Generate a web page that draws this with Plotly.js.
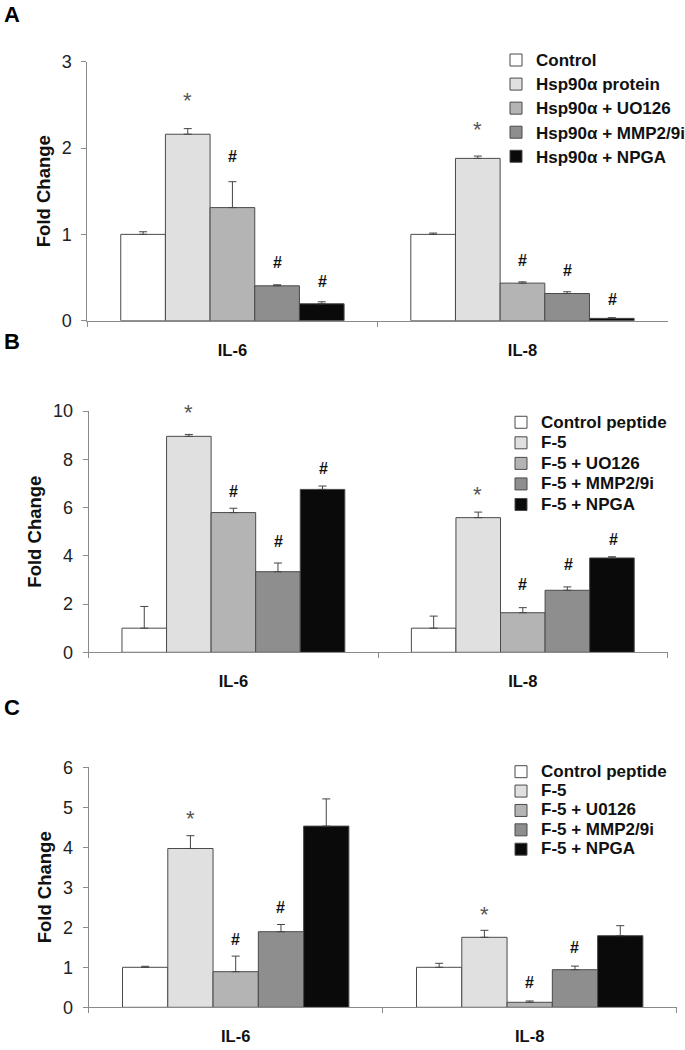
<!DOCTYPE html>
<html>
<head>
<meta charset="utf-8">
<script src="https://cdn.plot.ly/plotly-3.0.1.min.js"></script>
<style>html,body{margin:0;padding:0;background:#fff;}#chart{width:685px;height:1050px;}</style>
</head>
<body>
<div id="chart"></div>
<script>
// ---- Data ----
const categories = ["IL-6", "IL-8"];

// Panel A
const seriesA = ["Control", "Hsp90α protein", "Hsp90α + UO126", "Hsp90α + MMP2/9i", "Hsp90α + NPGA"];
const valuesA = [[1.00, 1.00], [2.16, 1.88], [1.31, 0.435], [0.404, 0.315], [0.196, 0.027]];
const errorsA = [[0.03, 0.015], [0.065, 0.027], [0.30, 0.015], [0.012, 0.02], [0.023, 0.008]];
const marksA = [["", ""], ["*", "*"], ["#", "#"], ["#", "#"], ["#", "#"]];
const markYA = [[0, 0], [2.55, 2.21], [1.90, 0.70], [0.67, 0.585], [0.45, 0.24]];

// Panel B
const seriesB = ["Control peptide", "F-5", "F-5 + UO126", "F-5 + MMP2/9i", "F-5 + NPGA"];
const valuesB = [[1.00, 1.00], [8.95, 5.58], [5.79, 1.64], [3.34, 2.57], [6.75, 3.91]];
const errorsB = [[0.90, 0.50], [0.08, 0.23], [0.18, 0.21], [0.36, 0.14], [0.14, 0.05]];
const marksB = [["", ""], ["*", "*"], ["#", "#"], ["#", "#"], ["#", "#"]];
const markYB = [[0, 0], [9.94, 6.56], [6.66, 2.83], [4.59, 3.62], [7.62, 4.68]];

// Panel C
const seriesC = ["Control peptide", "F-5", "F-5 + U0126", "F-5 + MMP2/9i", "F-5 + NPGA"];
const valuesC = [[1.00, 1.00], [3.97, 1.75], [0.89, 0.125], [1.89, 0.94], [4.53, 1.79]];
const errorsC = [[0.025, 0.10], [0.32, 0.175], [0.39, 0.033], [0.18, 0.09], [0.68, 0.25]];
const marksC = [["", ""], ["*", "*"], ["#", "#"], ["#", "#"], ["", ""]];
const markYC = [[0, 0], [4.72, 2.325], [1.70, 0.62], [2.50, 1.50], [0, 0]];

const fills = ["#ffffff", "#e0e0e0", "#b4b4b4", "#8e8e8e", "#0a0a0a"];

// ---- Build ----
const W = 685, H = 1050;
const FONT = "Liberation Sans, Arial, sans-serif";
const panels = [
  {names: seriesA, vals: valuesA, errs: errorsA, marks: marksA, markY: markYA, x: "x", y: "y", legend: "legend", range: [0, 3], dtick: 1,
   px: [87.4, 667.5], py: [61.7, 320.7], letter: "A", letterY: 15, legX: 496, legY: 43, rowFont: 16.2},
  {names: seriesB, vals: valuesB, errs: errorsB, marks: marksB, markY: markYB, x: "x2", y: "y2", legend: "legend2", range: [0, 10], dtick: 2,
   px: [88.7, 667.5], py: [411, 652.3], letter: "B", letterY: 341, legX: 501, legY: 407, rowFont: 13.5},
  {names: seriesC, vals: valuesC, errs: errorsC, marks: marksC, markY: markYC, x: "x3", y: "y3", legend: "legend3", range: [0, 6], dtick: 1,
   px: [88.7, 676.7], py: [767.3, 1007.3], letter: "C", letterY: 707, legX: 501, legY: 757, rowFont: 12.6}
];

const traces = [];
const annotations = [];
const layout = {
  width: W, height: H,
  margin: {l: 0, r: 0, t: 0, b: 0, pad: 0, autoexpand: false},
  paper_bgcolor: "#fff", plot_bgcolor: "#fff",
  barmode: "group", bargap: 0.23, bargroupgap: 0,
  font: {family: FONT, color: "#000"},
  showlegend: true,
  annotations: annotations
};

panels.forEach((p, pi) => {
  const sfx = pi === 0 ? "" : String(pi + 1);
  p.names.forEach((nm, si) => {
    traces.push({
      type: "bar", name: '<span style="font-size:17px">' + nm + '</span>', x: categories, y: p.vals[si],
      xaxis: p.x, yaxis: p.y, legend: p.legend,
      marker: {color: fills[si], line: {color: "#4a4a4a", width: 1}},
      error_y: {type: "data", symmetric: false, array: p.errs[si], arrayminus: p.vals[si].map(() => 0),
                color: "#444", thickness: 1, width: 4},
      hoverinfo: "skip"
    });
    categories.forEach((c, ci) => {
      const m = p.marks[si][ci];
      if (!m) return;
      annotations.push({
        xref: p.x, yref: p.y, x: c, y: p.markY[si][ci], text: m, showarrow: false,
        xshift: (si - 2) * (226 / 5),
        font: m === "*" ? {size: 22, color: "#555", family: FONT}
                        : {size: 16, color: "#111", family: FONT, weight: "bold"},
        yanchor: "middle", xanchor: "center"
      });
    });
  });

  layout["xaxis" + sfx] = {
    domain: [p.px[0] / W, p.px[1] / W], anchor: p.y,
    type: "category", showline: true, linecolor: "#8a8a8a", linewidth: 1,
    ticks: "outside", tickson: "boundaries", ticklen: 5, tickcolor: "#8a8a8a",
    showgrid: false, zeroline: false, fixedrange: true,
    tickfont: {size: 16.5, family: FONT, weight: "bold", color: "#111"},
    ticklabelstandoff: 14
  };
  layout["yaxis" + sfx] = {
    domain: [1 - p.py[1] / H, 1 - p.py[0] / H], anchor: p.x,
    range: p.range, dtick: p.dtick, tick0: 0,
    showline: true, linecolor: "#8a8a8a", linewidth: 1,
    ticks: "outside", ticklen: 5, tickcolor: "#8a8a8a",
    showgrid: false, zeroline: false, fixedrange: true,
    tickfont: {size: 18, family: "Liberation Sans Narrow, Liberation Sans, Arial, sans-serif", color: "#222"},
    ticklabelstandoff: 6,
    title: {text: "Fold Change", standoff: 6,
            font: {size: 18.5, family: FONT, weight: "bold", color: "#111"}}
  };
  layout[p.legend] = {
    x: p.legX / W, y: 1 - p.legY / H, xanchor: "left", yanchor: "top",
    bgcolor: "rgba(0,0,0,0)", itemwidth: 30,
    font: {size: p.rowFont, family: FONT, weight: "bold", color: "#111"},
    traceorder: "normal"
  };
  annotations.push({
    xref: "paper", yref: "paper", x: 12 / W, y: 1 - p.letterY / H, text: p.letter,
    showarrow: false, xanchor: "center", yanchor: "middle",
    font: {size: 22, family: FONT, weight: "bold", color: "#000"}
  });
});

Plotly.newPlot("chart", traces, layout, {displayModeBar: false, staticPlot: true});
</script>
</body>
</html>
